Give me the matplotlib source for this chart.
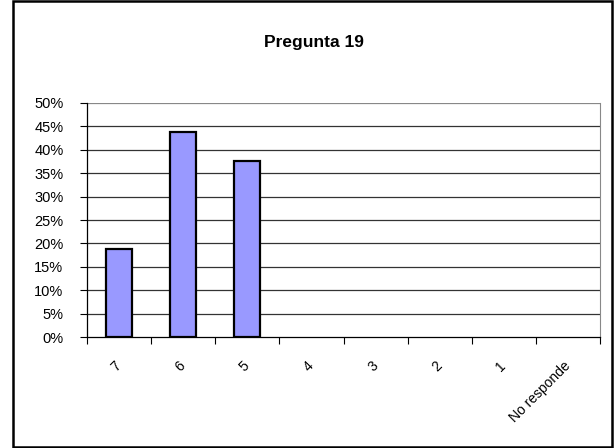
import numpy as np
import matplotlib
matplotlib.use("Agg")
import matplotlib.pyplot as plt
from matplotlib.patches import Rectangle

categorias = ['7', '6', '5', '4', '3', '2', '1', 'No responde']
valores = [0.1875, 0.4375, 0.375, 0, 0, 0, 0, 0]
yticks = [0, 0.05, 0.10, 0.15, 0.20, 0.25, 0.30, 0.35, 0.40, 0.45, 0.50]
titulo = 'Pregunta 19'

plt.rcParams['font.family'] = ['Liberation Sans', 'DejaVu Sans']

fig = plt.figure(figsize=(6.15, 4.48), dpi=100)
# marco exterior
fig.patches.append(Rectangle((13/615, 1/448), 599/615, 446/448, transform=fig.transFigure,
                             fill=False, edgecolor='black', linewidth=1.8))

ax = fig.add_axes([87/615, 111/448, 513/615, 234/448])
x = np.arange(len(categorias))
alt = [v if v > 0 else np.nan for v in valores]
ax.bar(x, alt, width=0.4, color='#9999FF', edgecolor='black', linewidth=1.6, zorder=3)

ax.set_xlim(-0.5, len(categorias) - 0.5)
ax.set_ylim(0, 0.5)
ax.set_yticks(yticks)
ax.set_yticklabels([f'{int(round(t*100))}%' for t in yticks], fontsize=10.5)
for t in yticks[1:]:
    c = '#888888' if t == 0.5 else '#333333'
    ax.axhline(t, color=c, linewidth=0.9, zorder=1)

ax.set_xticks(x)
ax.set_xticklabels(categorias, rotation=45, ha='right', va='center',
                   rotation_mode='anchor', fontsize=10)
ax.tick_params(axis='x', which='major', length=0, pad=19)
ax.set_xticks(np.arange(len(categorias) + 1) - 0.5, minor=True)
ax.tick_params(axis='x', which='minor', length=5, direction='out', width=0.8)
ax.tick_params(axis='y', length=5, direction='out', width=0.8, pad=12)

ax.spines['top'].set_visible(False)
ax.spines['right'].set_color('#888888')
ax.spines['left'].set_linewidth(0.9)
ax.spines['bottom'].set_linewidth(0.9)

fig.text(314/615, 1 - 43/448, titulo, ha='center', va='center', fontsize=12.5, fontweight='bold')

fig.savefig('out.png', dpi=100)
